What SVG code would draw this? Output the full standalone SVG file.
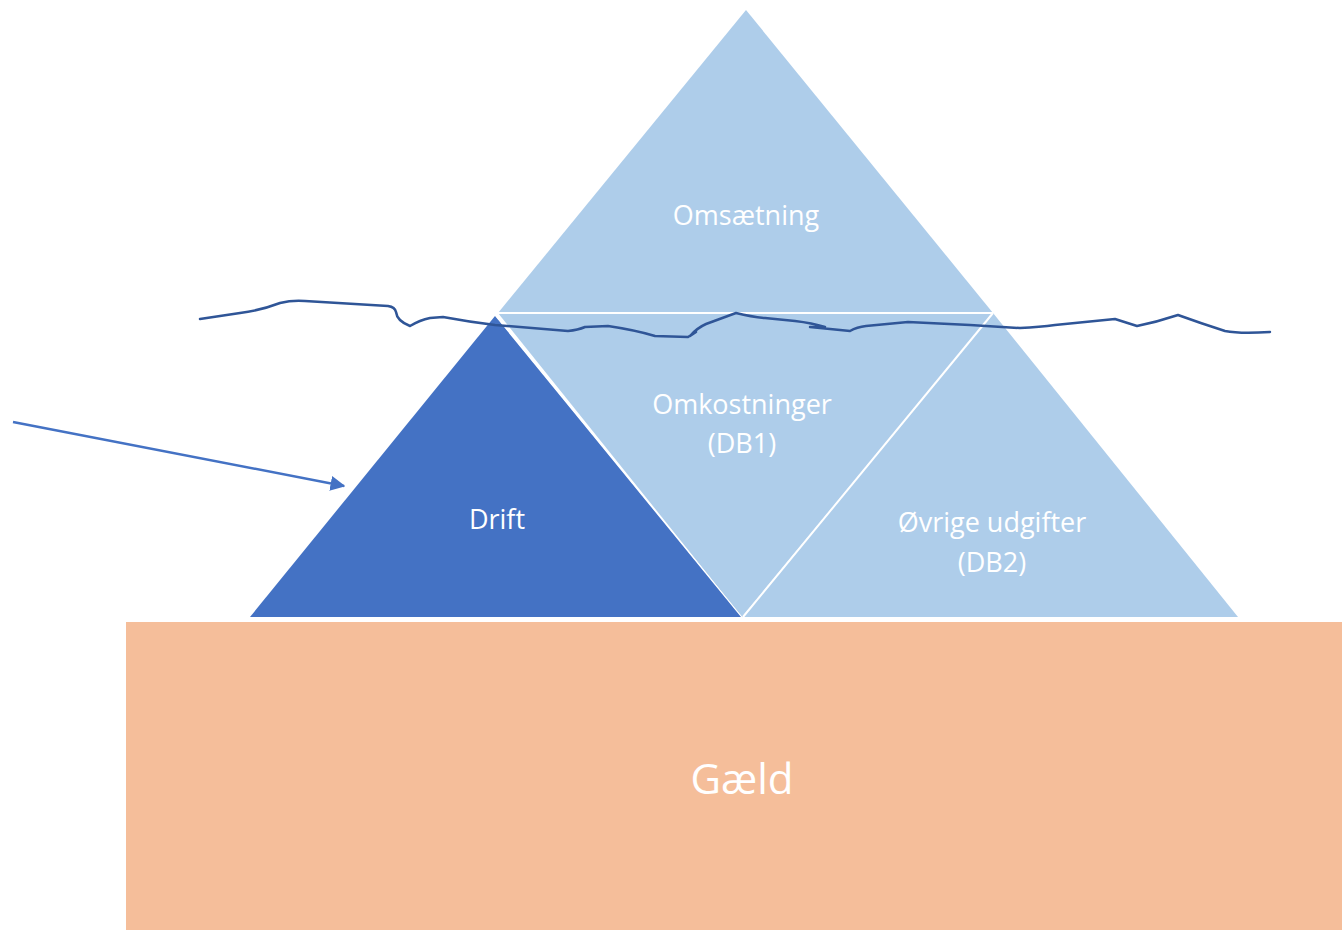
<svg xmlns="http://www.w3.org/2000/svg" width="1342" height="930" viewBox="0 0 1342 930">
<style>
.light{fill:#AECDEA;}
.dark{fill:#4472C4;}
.sep{stroke:#FFFFFF;stroke-width:2;fill:none;}
.lbl{font-family:"Open Sans","Liberation Sans",sans-serif;font-size:27px;fill:#FFFFFF;text-anchor:middle;}
.big{font-size:42px;}
.wave{fill:none;stroke:#2F5597;stroke-width:2.5;stroke-linejoin:round;stroke-linecap:round;}
.arrow{stroke:#4472C4;stroke-width:2.5;fill:none;}
</style>
<defs>
<marker id="ah" viewBox="0 0 10 10" refX="9" refY="5" markerWidth="6" markerHeight="6" orient="auto" markerUnits="strokeWidth">
<path d="M0,0 L10,5 L0,10 z" fill="#4472C4"/>
</marker>
</defs>
<rect width="1342" height="930" fill="#FFFFFF"/>
<g id="gaeld">
<rect x="126" y="622" width="1216" height="308" fill="#F5BE9A"/>
<text class="lbl big" x="742" y="794">Gæld</text>
</g>
<g id="omsaetning">
<polygon class="light" points="746,10 498,313 993,313"/>
<text class="lbl" x="746" y="225">Omsætning</text>
</g>
<g id="omkostninger">
<polygon class="light" points="498,313 993,313 742,617"/>
<text class="lbl" x="742" y="414">Omkostninger</text>
<text class="lbl" x="742" y="453">(DB1)</text>
</g>
<g id="ovrige">
<polygon class="light" points="993,313 742,617 1238,617"/>
<text class="lbl" x="992" y="532">Øvrige udgifter</text>
<text class="lbl" x="992" y="572">(DB2)</text>
</g>
<g id="drift">
<polygon class="dark" points="495,316 250,617 741,617"/>
<text class="lbl" x="497" y="529">Drift</text>
</g>
<g id="separators">
<line class="sep" x1="498" y1="313" x2="993" y2="313"/>
<line class="sep" x1="993" y1="313" x2="743" y2="617"/>
<line class="sep" style="stroke-width:0.8" x1="496" y1="316" x2="742" y2="617"/>
</g>
<g id="connectors">
<path class="wave" d="M200,319 L240,313 Q262,310 280,303 Q292,300 305,301 L388,306 Q395,307 396,312 Q397,321 410,326 Q420,320 430,318 L443,317 Q470,322 495,325 L568,331 Q578,330 585,327 L608,326 Q635,330 655,336 L688,337 L696,332 L690,336 Q697,328 706,324 L736,313 Q752,317 765,318 L795,321 Q812,323 825,327 L810,327 L850,331 Q857,327 866,326 L908,322 L970,325 L1020,328 Q1040,327 1055,325 L1115,319 L1137,326 Q1157,322 1178,315 Q1200,323 1225,331 Q1240,334 1270,332"/>
<line class="arrow" x1="13" y1="422" x2="344" y2="486" marker-end="url(#ah)"/>
</g>
</svg>
